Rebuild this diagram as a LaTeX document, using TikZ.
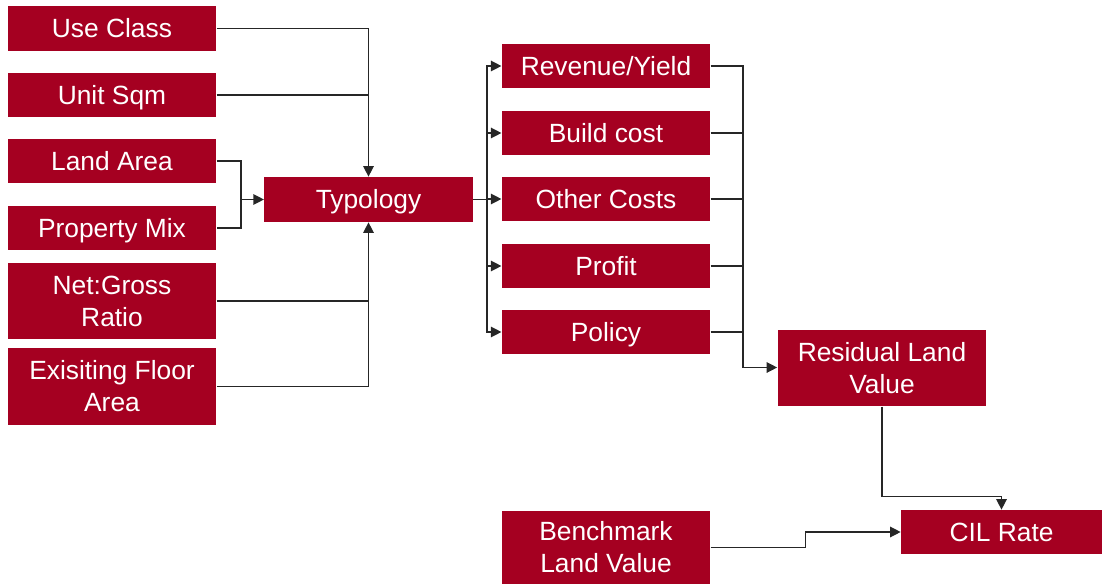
\documentclass[tikz,border=0pt]{standalone}
\usepackage{fontspec}
\setmainfont{Liberation Sans}
\usetikzlibrary{arrows.meta,calc}
\definecolor{boxred}{HTML}{A50021}
\tikzset{
    arr/.style={-{Triangle[length=6pt,width=6pt]}},
    factor/.style={fill=boxred, text=white, align=center, inner sep=0pt,
        minimum width=4.17cm, minimum height=0.9cm,
        font=\fontsize{15}{18.2}\selectfont},
    oneline/.style={text height=10.7pt, text depth=0pt},
    tall/.style={minimum height=1.53cm},
    link/.style={draw=black!85, line width=0.75pt}
}

\begin{document}
\begin{tikzpicture}[x=0.02cm, y=-0.02cm]
    \useasboundingbox (0,0) rectangle (1102,584);

    % Inputs on the left
    \node[factor, oneline] (useclass) at (112,28.5) {Use Class};
    \node[factor, oneline] (unitsqm) at (112,95) {Unit Sqm};
    \node[factor, oneline, minimum height=0.88cm] (landarea) at (112,161) {Land Area};
    \node[factor, oneline, minimum height=0.88cm] (propmix) at (112,228) {Property Mix};
    \node[factor, tall] (netgross) at (112,301) {Net:Gross\\Ratio};
    \node[factor, tall] (floorarea) at (112,386.5) {Exisiting Floor\\Area};

    \node[factor, oneline] (typology) at (368.5,199.5) {Typology};

    % Appraisal inputs
    \node[factor, oneline] (revenue) at (606,66) {Revenue/Yield};
    \node[factor, oneline] (buildcost) at (606,133) {Build cost};
    \node[factor, oneline] (othercost) at (606,199) {Other Costs};
    \node[factor, oneline] (profit) at (606,266) {Profit};
    \node[factor, oneline] (policy) at (606,332) {Policy};

    % Outputs
    \node[factor, tall, minimum width=4.18cm] (residual) at (882,368) {Residual Land\\Value};
    \node[factor, minimum height=1.48cm] (benchmark) at (606,547.5) {Benchmark\\Land Value};
    \node[factor, oneline, minimum width=4.02cm, minimum height=0.88cm] (cilrate) at (1001.5,532) {CIL Rate};

    \coordinate (mixjoin) at (241,199.5);
    \coordinate (spine) at (487,199.5);
    \coordinate (bus) at (743,367.5);

    % Into typology
    \draw[link, arr] (useclass.east) -| (typology.north);
    \draw[link] (unitsqm.east) -- (unitsqm.east -| typology.north);
    \draw[link] (landarea.east) -| (mixjoin) |- (propmix.east);
    \draw[link, arr] (mixjoin) -- (typology.west);
    \draw[link, arr] (floorarea.east) -| (typology.south);
    \draw[link] (netgross.east) -- (netgross.east -| typology.south);

    % Typology to appraisal inputs
    \draw[link] (typology.east) -- (spine);
    \foreach \n in {revenue,buildcost,othercost,profit,policy}
        \draw[link, arr] (spine) |- (\n.west);

    % Appraisal inputs to residual value
    \foreach \n in {buildcost,othercost,profit,policy}
        \draw[link] (\n.east) -- (\n.east -| bus);
    \draw[link, arr] (revenue.east) -| (bus) -- (bus -| residual.west);

    % Residual and benchmark to CIL rate
    \draw[link, arr] (residual.south) -- ++(0,90) -| (cilrate.north);
    \draw[link, arr] (benchmark.east) -- ++(95,0) |- (cilrate.west);
\end{tikzpicture}
\end{document}
